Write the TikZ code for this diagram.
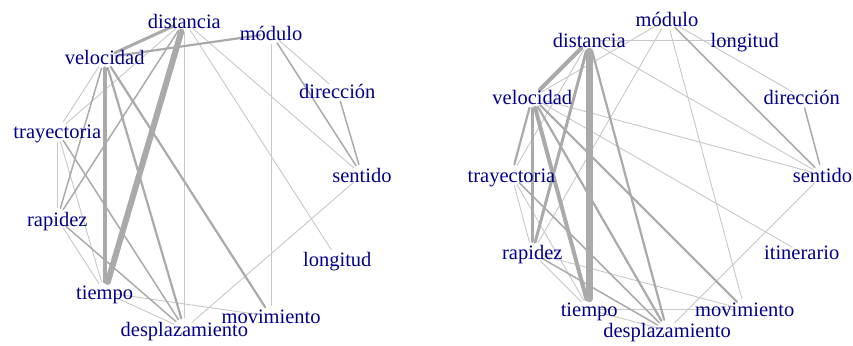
\documentclass[tikz,border=0pt]{standalone}
\usepackage{fontspec}
\setmainfont{Liberation Serif}
\definecolor{lblue}{RGB}{0,0,139}
\definecolor{thinc}{RGB}{200,200,200}
\definecolor{medc}{RGB}{170,170,170}
\tikzset{
  vtx/.style={circle, minimum size=22pt, inner sep=0pt, outer sep=0pt},
  lbl/.style={text=lblue, font=\fontsize{20.5}{24}\selectfont, inner sep=0pt, text height=14.4pt, text depth=0pt},
  ea/.style={draw=thinc, line width=0.9pt},
  eb/.style={draw=medc, line width=1.5pt},
  ec/.style={draw=medc, line width=2.2pt},
  ed/.style={draw=medc, line width=3pt},
  ee/.style={draw=medc, line width=4pt},
  ef/.style={draw=medc, line width=6pt},
  eg/.style={draw=medc, line width=7pt},
}
\begin{document}
\begin{tikzpicture}[x=1pt,y=-1pt,line cap=round]
\useasboundingbox (0,0) rectangle (853,345);
% ---------- left graph vertices ----------
\node[vtx] (ls)  at (362.0,175) {};
\node[vtx] (ldi) at (337.3,90.9) {};
\node[vtx] (lmo) at (271.1,33.6) {};
\node[vtx] (ld)  at (184.4,21.1) {};
\node[vtx] (lv)  at (104.7,57.5) {};
\node[vtx] (ltr) at (57.3,131.2) {};
\node[vtx] (lr)  at (57.3,218.8) {};
\node[vtx] (lt)  at (104.7,292.5) {};
\node[vtx] (lde) at (184.4,328.9) {};
\node[vtx] (lmv) at (271.1,316.4) {};
\node[vtx] (ll)  at (337.3,259.1) {};
% ---------- left edges ----------
\draw[ea] (ld) -- (lde);
\draw[ea] (ld) -- (ltr);
\draw[ea] (ld) -- (ls);
\draw[ea] (ld) -- (ll);
\draw[ea] (lmo) -- (ldi);
\draw[ea] (lmo) -- (lmv);
\draw[ea] (ls) -- (lde);
\draw[ea] (lv) -- (ltr);
\draw[ea] (ltr) -- (lr);
\draw[ea] (ltr) -- (lt);
\draw[ea] (lr) -- (lt);
\draw[ea] (lt) -- (lde);
\draw[ea] (lt) -- (lmv);
\draw[eb] (lr) -- (ld);
\draw[eb] (lmo) -- (ls);
\draw[eb] (ldi) -- (ls);
\draw[eb] (ltr) -- (lde);
\draw[eb] (lr) -- (lde);
\draw[eb] (lv) -- (lr);
\draw[ec] (lv) -- (lmo);
\draw[ec] (lv) -- (lmv);
\draw[ec] (lv) -- (lde);
\draw[ed] (ld) -- (lv);
\draw[ee] (lv) -- (lt);
\draw[ef] (ld) -- (lt);
% ---------- right graph vertices ----------
\node[vtx] (rs)  at (822.5,175) {};
\node[vtx] (rdi) at (801.7,97.25) {};
\node[vtx] (rl)  at (744.75,40.3) {};
\node[vtx] (rmo) at (667,19.5) {};
\node[vtx] (rd)  at (589.25,40.3) {};
\node[vtx] (rv)  at (532.3,97.25) {};
\node[vtx] (rtr) at (511.5,175) {};
\node[vtx] (rr)  at (532.3,252.75) {};
\node[vtx] (rt)  at (589.25,309.7) {};
\node[vtx] (rde) at (667,330.5) {};
\node[vtx] (rmv) at (744.75,309.7) {};
\node[vtx] (ri)  at (801.7,252.75) {};
% ---------- right edges ----------
\draw[ea] (rv) -- (rmo);
\draw[ea] (rv) -- (rs);
\draw[ea] (rv) -- (ri);
\draw[ea] (rd) -- (rl);
\draw[ea] (rd) -- (rs);
\draw[ea] (rd) -- (rtr);
\draw[ea] (rmo) -- (rdi);
\draw[ea] (rmo) -- (rmv);
\draw[ea] (rmo) -- (rr);
\draw[ea] (rs) -- (rde);
\draw[ea] (rt) -- (rmv);
\draw[ea] (rt) -- (rde);
\draw[ea] (rr) -- (rt);
\draw[ea] (rr) -- (rmv);
\draw[ea] (rtr) -- (rr);
\draw[ea] (rtr) -- (rt);
\draw[eb] (rmo) -- (rs);
\draw[eb] (rdi) -- (rs);
\draw[eb] (rtr) -- (rde);
\draw[eb] (rr) -- (rde);
\draw[ec] (rv) -- (rmv);
\draw[ec] (rd) -- (rde);
\draw[ec] (rv) -- (rtr);
\draw[ec] (rv) -- (rde);
\draw[ed] (rv) -- (rr);
\draw[ed] (rd) -- (rr);
\draw[ee] (rd) -- (rv);
\draw[ee] (rv) -- (rt);
\draw[eg] (rd) -- (rt);
% ---------- labels ----------
\node[lbl] (ls-t)  at (ls)  {sentido};
\node[lbl] (ldi-t) at (ldi) {dirección};
\node[lbl] (lmo-t) at (lmo) {módulo};
\node[lbl] (ld-t)  at (ld)  {distancia};
\node[lbl] (lv-t)  at (lv)  {velocidad};
\node[lbl] (ltr-t) at (ltr) {trayectoria};
\node[lbl] (lr-t)  at (lr)  {rapidez};
\node[lbl] (lt-t)  at (lt)  {tiempo};
\node[lbl] (lde-t) at (lde) {desplazamiento};
\node[lbl] (lmv-t) at (lmv) {movimiento};
\node[lbl] (ll-t)  at (ll)  {longitud};
\node[lbl] (rs-t)  at (rs)  {sentido};
\node[lbl] (rdi-t) at (rdi) {dirección};
\node[lbl] (rl-t)  at (rl)  {longitud};
\node[lbl] (rmo-t) at (rmo) {módulo};
\node[lbl] (rd-t)  at (rd)  {distancia};
\node[lbl] (rv-t)  at (rv)  {velocidad};
\node[lbl] (rtr-t) at (rtr) {trayectoria};
\node[lbl] (rr-t)  at (rr)  {rapidez};
\node[lbl] (rt-t)  at (rt)  {tiempo};
\node[lbl] (rde-t) at (rde) {desplazamiento};
\node[lbl] (rmv-t) at (rmv) {movimiento};
\node[lbl] (ri-t)  at (ri)  {itinerario};
\end{tikzpicture}
\end{document}
